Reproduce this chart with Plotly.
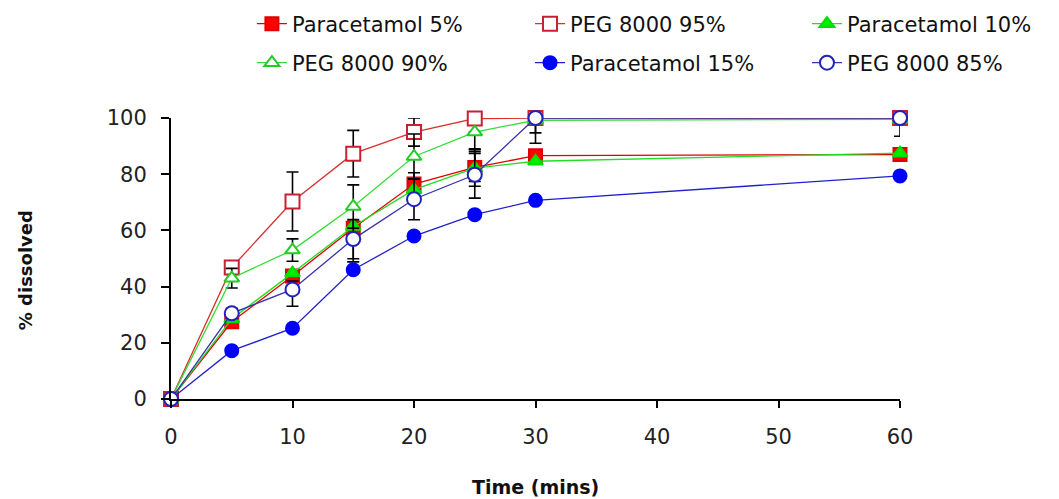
import plotly.graph_objects as go

time = [0, 5, 10, 15, 20, 25, 30, 60]

names = ["Paracetamol 5%", "PEG 8000 95%", "Paracetamol 10%",
         "PEG 8000 90%", "Paracetamol 15%", "PEG 8000 85%"]

para5 = [0, 27.5, 43.8, 60.8, 76.5, 82.4, 86.6, 87.0]
peg95 = [0, 46.8, 70.3, 87.3, 95.0, 99.8, 100, 100]
para10 = [0, 28.5, 44.8, 61.4, 74.5, 82.2, 84.6, 87.5]
peg90 = [0, 43.0, 53.0, 68.5, 86.3, 95.0, 99.2, 99.5]
para15 = [0, 17.2, 25.2, 46.0, 58.0, 65.6, 70.7, 79.4]
peg85 = [0, 30.5, 39.0, 56.9, 71.1, 79.8, 100, 100]

# error bars (plus / minus)
para5_ep = [0, 0, 2, 2.5, 4, 5, 0, 0]
para5_em = [0, 0, 2, 12, 4, 5, 0, 0]
peg95_ep = [0, 0, 10.5, 8.3, 5, 0, 0, 0]
peg95_em = [0, 0, 10.5, 8.3, 5, 0, 0, 0]
para10_ep = [0, 0, 0, 0, 0, 6.5, 0, 0]
para10_em = [0, 0, 0, 0, 0, 6.5, 0, 0]
peg90_ep = [0, 3.5, 4.0, 7.7, 8, 0, 0, 0]
peg90_em = [0, 3.5, 4.0, 7.7, 8, 6, 8.2, 0]
para15_ep = [0, 0, 0, 0, 0, 0, 0, 0]
para15_em = [0, 0, 0, 0, 0, 0, 0, 0]
peg85_ep = [0, 1.8, 3.0, 7.0, 7.3, 8.3, 0, 0]
peg85_em = [0, 1.8, 6.0, 7.0, 7.3, 8.3, 5.3, 6.5]

x_ticks = [0, 10, 20, 30, 40, 50, 60]
y_ticks = [0, 20, 40, 60, 80, 100]

styles = [
    dict(y=para5, ep=para5_ep, em=para5_em, line="#E00000", symbol="square", size=13,
         fill="#FF0000", edge="#E00000", legend="legend"),
    dict(y=peg95, ep=peg95_ep, em=peg95_em, line="#D83030", symbol="square", size=14,
         fill="#FFFFFF", edge="#C82030", legend="legend2"),
    dict(y=para10, ep=para10_ep, em=para10_em, line="#22DD22", symbol="triangle-up", size=13,
         fill="#00EE00", edge="#00DD00", legend="legend3"),
    dict(y=peg90, ep=peg90_ep, em=peg90_em, line="#33DD33", symbol="triangle-up", size=13,
         fill="#FFFFFF", edge="#22CC22", legend="legend4"),
    dict(y=para15, ep=para15_ep, em=para15_em, line="#2020CC", symbol="circle", size=13,
         fill="#0000FF", edge="#0000FF", legend="legend5"),
    dict(y=peg85, ep=peg85_ep, em=peg85_em, line="#3333AA", symbol="circle", size=14,
         fill="#FFFFFF", edge="#2222BB", legend="legend6"),
]

fig = go.Figure()
for name, s in zip(names, styles):
    fig.add_trace(go.Scatter(
        x=time, y=s["y"], name=name, mode="lines+markers",
        line=dict(color=s["line"], width=1.3),
        marker=dict(symbol=s["symbol"], size=s["size"], color=s["fill"],
                    line=dict(color=s["edge"], width=2)),
        error_y=dict(type="data", symmetric=False, array=s["ep"], arrayminus=s["em"],
                     color="black", thickness=1.6, width=6),
        cliponaxis=False,
        legend=s["legend"],
    ))

font_main = "DejaVu Sans"


def leg(x, y):
    return dict(x=x, y=y, xanchor="left", yanchor="middle", orientation="v",
                font=dict(family=font_main, size=21, color="#111111"),
                bgcolor="rgba(0,0,0,0)", borderwidth=0)


col_x = [0.111, 0.4925, 0.8724]
row_y = [1.3345, 1.1957]

# page body has an 8px default margin, so the figure is sized 8px smaller
fig.update_layout(
    width=1051, height=491,
    margin=dict(l=163, r=159, t=110, b=100, autoexpand=False),
    plot_bgcolor="white", paper_bgcolor="white",
    showlegend=True,
    legend=leg(col_x[0], row_y[0]),
    legend2=leg(col_x[1], row_y[0]),
    legend3=leg(col_x[2], row_y[0]),
    legend4=leg(col_x[0], row_y[1]),
    legend5=leg(col_x[1], row_y[1]),
    legend6=leg(col_x[2], row_y[1]),
    xaxis=dict(range=[0, 60], tickvals=x_ticks, ticktext=[str(v) for v in x_ticks],
               showgrid=False, zeroline=False, showline=True, linecolor="black", linewidth=2,
               ticks="outside", ticklen=7, tickwidth=2, tickcolor="black",
               tickfont=dict(family=font_main, size=21, color="#222222"),
               ticklabelstandoff=11),
    yaxis=dict(range=[0, 100], tickvals=y_ticks, ticktext=[str(v) for v in y_ticks],
               showgrid=False, zeroline=False, showline=True, linecolor="black", linewidth=2,
               ticks="outside", ticklen=8, tickwidth=2, tickcolor="black",
               tickfont=dict(family=font_main, size=21, color="#222222"),
               ticklabelstandoff=10),
    annotations=[
        dict(text="<b>Time (mins)</b>", xref="paper", yref="paper", x=0.5, y=-0.312,
             xanchor="center", yanchor="middle", showarrow=False,
             font=dict(family=font_main, size=19, color="#111111")),
        dict(text="<b>% dissolved</b>", xref="paper", yref="paper", x=-0.2, y=0.459,
             xanchor="center", yanchor="middle", showarrow=False, textangle=-90,
             font=dict(family=font_main, size=18, color="#111111")),
    ],
)

fig.write_html("out.html")
